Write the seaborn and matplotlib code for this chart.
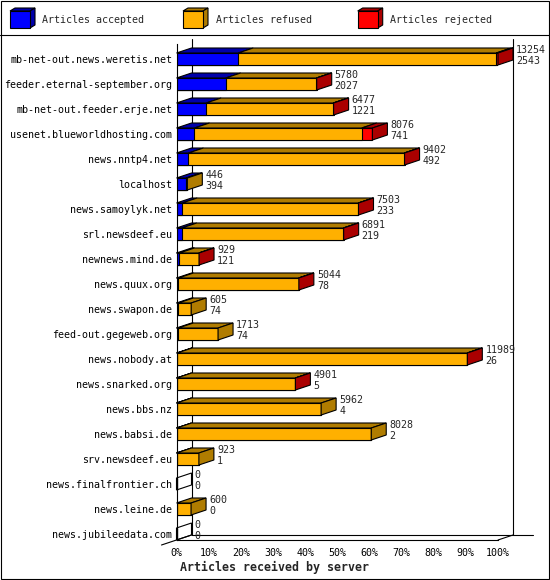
import numpy as np
import pandas as pd
import matplotlib
matplotlib.use("Agg")
import matplotlib.pyplot as plt
import seaborn as sns
from matplotlib.patches import Polygon, Rectangle

# data
servers = [
    "mb-net-out.news.weretis.net", "feeder.eternal-september.org",
    "mb-net-out.feeder.erje.net", "usenet.blueworldhosting.com",
    "news.nntp4.net", "localhost", "news.samoylyk.net", "srl.newsdeef.eu",
    "newnews.mind.de", "news.quux.org", "news.swapon.de",
    "feed-out.gegeweb.org", "news.nobody.at", "news.snarked.org",
    "news.bbs.nz", "news.babsi.de", "srv.newsdeef.eu",
    "news.finalfrontier.ch", "news.leine.de", "news.jubileedata.com",
]
accepted = [2543, 2027, 1221, 741, 492, 394, 233, 219, 121, 78, 74, 74,
            26, 5, 4, 2, 1, 0, 0, 0]
refused = [10637, 3743, 5241, 6895, 8898, 52, 7262, 6662, 800, 4960, 531,
           1639, 11958, 4892, 5958, 8026, 922, 0, 600, 0]
rejected = [74, 10, 15, 440, 12, 0, 8, 10, 8, 6, 0, 0, 5, 4, 0, 0, 0, 0, 0, 0]
pct_ticks = [0, 10, 20, 30, 40, 50, 60, 70, 80, 90, 100]
series = ["accepted", "refused", "rejected"]
legend_labels = ["Articles accepted", "Articles refused", "Articles rejected"]

face = {"accepted": "#0000ff", "refused": "#ffb000", "rejected": "#ff0000"}
shade = {"accepted": "#0000aa", "refused": "#b07c00", "rejected": "#aa0000"}

sns.set_style("white")
plt.rcParams["font.family"] = ["DejaVu Sans Mono"]
FS = 7.2
LW = 0.8

df = pd.DataFrame({"server": servers, "accepted": accepted,
                   "refused": refused, "rejected": rejected})
df["upto_acc"] = df["accepted"]
df["upto_ref"] = df["accepted"] + df["refused"]
df["total"] = df["upto_ref"] + df["rejected"]

W, H = 550, 580
fig = plt.figure(figsize=(W / 100, H / 100), dpi=100)

# background axes in pixel coords for frame, legend and title
bg = fig.add_axes([0, 0, 1, 1])
bg.set_xlim(0, W)
bg.set_ylim(H, 0)
bg.axis("off")

# plot area (front face) in pixels
x0, x1, y0, y1 = 176.5, 498, 44, 540
ax = fig.add_axes([x0 / W, 1 - y1 / H, (x1 - x0) / W, (y1 - y0) / H])
ax.set_facecolor("none")

# stacked front faces: draw cumulative sums from the longest down
for col, key in [("total", "rejected"), ("upto_ref", "refused"), ("upto_acc", "accepted")]:
    sns.barplot(data=df, x=col, y="server", orient="y", color=face[key],
                saturation=1, width=0.48, edgecolor="black", linewidth=LW,
                ax=ax, zorder=2)

n = len(df)
xmax = df["total"].max()
ybot = n - 1 + 0.24
ax.set_xlim(0, xmax)
ax.set_ylim(ybot, -0.6)
ax.set_xlabel("")
ax.set_ylabel("")

# depth offset (15 px right, 5 px up) in data units
dx = 15 * xmax / (x1 - x0)
dy = 5 * (ybot + 0.6) / (y1 - y0)
half = 0.24

# back walls / floor
wall = dict(color="black", lw=LW, clip_on=False, zorder=0.5)
ax.plot([dx, dx], [-0.6 - dy, ybot - dy], **wall)
ax.plot([xmax + dx, xmax + dx], [-0.6 - dy, ybot - dy], **wall)
ax.plot([dx, xmax + 2.3 * dx], [ybot - dy, ybot - dy], **wall)
ax.plot([xmax, xmax + dx], [ybot, ybot - dy], **wall)
ax.plot([-dx, dx], [ybot + dy, ybot - dy], **wall)

# 3D top and side faces, value labels
for i, row in df.iterrows():
    top, bot = i - half, i + half
    start = 0
    last = None
    for key in series:
        v = row[key]
        if v > 0:
            end = start + v
            ax.add_patch(Polygon([(start, top), (end, top), (end + dx, top - dy),
                                  (start + dx, top - dy)],
                                 facecolor=shade[key], edgecolor="black",
                                 lw=LW, clip_on=False, zorder=3))
            start = end
            last = key
    tot = row["total"]
    ax.add_patch(Polygon([(tot, top), (tot + dx, top - dy), (tot + dx, bot - dy),
                          (tot, bot)],
                         facecolor=shade[last] if last else "none",
                         edgecolor="black", lw=LW, clip_on=False, zorder=3))
    tx = tot + dx + 3 * xmax / (x1 - x0)
    ax.text(tx, i - 0.37, str(tot), va="center", ha="left", fontsize=FS)
    ax.text(tx, i + 0.08, str(row["accepted"]), va="center", ha="left", fontsize=FS)

ax.set_xticks([p / 100 * xmax for p in pct_ticks])
ax.set_xticklabels([f"{p}%" for p in pct_ticks])
ax.tick_params(axis="x", direction="out", length=3.6, width=LW, pad=2.5,
               labelsize=FS, colors="black")
ax.tick_params(axis="y", length=0, pad=3.2, labelsize=FS, colors="black")
for s in ["top", "right"]:
    ax.spines[s].set_visible(False)
for s in ["left", "bottom"]:
    ax.spines[s].set_color("black")
    ax.spines[s].set_linewidth(LW)

# legend
for key, label, cx, tx in zip(series, legend_labels, [10, 183, 357.7], [42, 216, 390.5]):
    bg.add_patch(Polygon([(cx, 11), (cx + 5, 8), (cx + 25, 8), (cx + 20, 11)],
                         facecolor=shade[key], edgecolor="black", lw=LW))
    bg.add_patch(Polygon([(cx + 20, 11), (cx + 25, 8), (cx + 25, 25), (cx + 20, 28)],
                         facecolor=shade[key], edgecolor="black", lw=LW))
    bg.add_patch(Rectangle((cx, 11), 20, 17, facecolor=face[key],
                           edgecolor="black", lw=LW))
    bg.text(tx, 20, label, va="center", ha="left", fontsize=FS)

bg.plot([0, W], [35, 35], color="black", lw=LW)
bg.add_patch(Rectangle((0.5, 0.5), W - 1.5, H - 1.5, fill=False,
                       edgecolor="black", lw=LW))
bg.text(180, 567, "Articles received by server", va="center", ha="left",
        fontsize=8.4, fontweight="bold")

fig.savefig("out.png", dpi=100)
